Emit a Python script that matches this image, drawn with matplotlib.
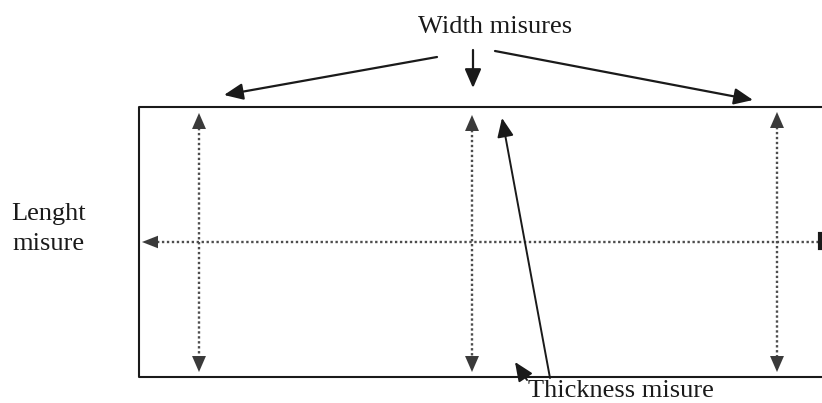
import matplotlib
matplotlib.use("Agg")
import matplotlib.pyplot as plt

# ---- diagram data (pixel coordinates of the drawing) ----
title_text = "Width misures"
length_label = ["Lenght", "misure"]
thickness_label = "Thickness misure"

# rectangle (specimen): left, top, right, bottom
rect_left, rect_top, rect_right, rect_bottom = 139, 107, 822, 377

# width measurement positions (vertical dotted double arrows)
width_x = [199, 472, 777]
width_y_top = [113, 115, 112]
width_y_bottom = [372, 372, 372]

# length measurement (horizontal dotted arrow)
length_y = 242
length_x_start = 142
length_x_end = 822

# pointer arrows from "Width misures" label: (tail_x, tail_y, tip_x, tip_y)
width_ptr_tail_x = [437, 473, 495]
width_ptr_tail_y = [57, 50, 51]
width_ptr_tip_x = [224, 473, 753]
width_ptr_tip_y = [95, 88, 100]

# thickness pointers
thick_tail_x = [550, 527]
thick_tail_y = [378, 380]
thick_tip_x = [502, 515]
thick_tip_y = [118, 362]

fig = plt.figure(figsize=(8.22, 4.03), dpi=100)
ax = fig.add_axes([0, 0, 1, 1])
ax.set_xlim(0, 822)
ax.set_ylim(403, 0)
ax.axis("off")

serif = ["Liberation Serif", "DejaVu Serif"]
ink = "#1a1a1a"
head_col = "#3a3a3a"
dot_col = "#4d4d4d"
head_style = "-|>,head_length=1.15,head_width=0.5"

# specimen outline (open on the right)
ax.plot([rect_right, rect_left, rect_left, rect_right],
        [rect_top, rect_top, rect_bottom, rect_bottom],
        color=ink, lw=1.5, solid_capstyle="butt")

# vertical dotted double arrows
for x, yt, yb in zip(width_x, width_y_top, width_y_bottom):
    ax.plot([x, x], [yt + 10, yb - 10], color=dot_col, lw=1.7,
            linestyle=(0, (1, 1.1)))
    ax.annotate("", xy=(x, yt), xytext=(x, yt + 15),
                arrowprops=dict(arrowstyle=head_style,
                                mutation_scale=10, lw=0.01, color=head_col,
                                shrinkA=0, shrinkB=0))
    ax.annotate("", xy=(x, yb), xytext=(x, yb - 15),
                arrowprops=dict(arrowstyle=head_style,
                                mutation_scale=10, lw=0.01, color=head_col,
                                shrinkA=0, shrinkB=0))

# horizontal dotted arrow
ax.plot([length_x_start + 10, length_x_end], [length_y, length_y],
        color=dot_col, lw=1.7, linestyle=(0, (1, 1.1)))
ax.annotate("", xy=(length_x_start, length_y), xytext=(length_x_start + 15, length_y),
            arrowprops=dict(arrowstyle="-|>,head_length=1.15,head_width=0.45",
                            mutation_scale=10, lw=0.01, color=head_col,
                            shrinkA=0, shrinkB=0))
ax.plot([length_x_end - 2, length_x_end - 2], [length_y - 8, length_y + 6],
        color=ink, lw=3)

# width pointer arrows
for tx, ty, hx, hy in zip(width_ptr_tail_x, width_ptr_tail_y,
                          width_ptr_tip_x, width_ptr_tip_y):
    ax.annotate("", xy=(hx, hy), xytext=(tx, ty),
                arrowprops=dict(arrowstyle=head_style,
                                mutation_scale=10, lw=1.6, color=ink,
                                facecolor=head_col, shrinkA=0, shrinkB=0))

# thickness pointer arrows
for tx, ty, hx, hy in zip(thick_tail_x, thick_tail_y, thick_tip_x, thick_tip_y):
    ax.annotate("", xy=(hx, hy), xytext=(tx, ty),
                arrowprops=dict(arrowstyle=head_style,
                                mutation_scale=10, lw=1.4, color=ink,
                                facecolor=head_col, shrinkA=0, shrinkB=0))

# labels
ax.text(495, 33, title_text, family=serif, fontsize=19, color=ink,
        ha="center", va="baseline")
ax.text(49, 220, length_label[0], family=serif, fontsize=19, color=ink,
        ha="center", va="baseline")
ax.text(48, 250, length_label[1], family=serif, fontsize=19, color=ink,
        ha="center", va="baseline")
ax.text(621, 402, thickness_label, family=serif, fontsize=19, color=ink,
        ha="center", va="bottom")

fig.savefig("out.png", dpi=100)
